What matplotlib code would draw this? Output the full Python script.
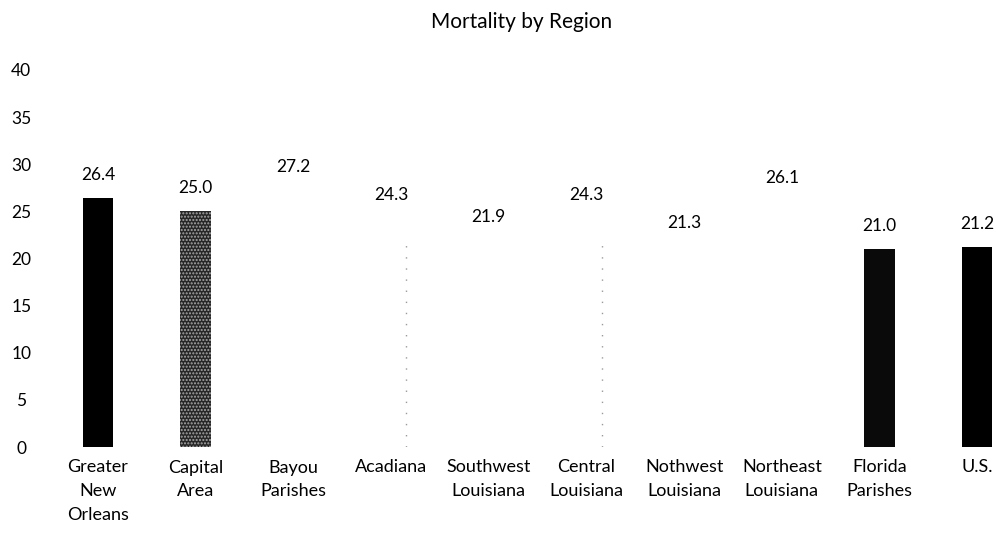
import matplotlib
matplotlib.use("Agg")
import matplotlib.pyplot as plt

plt.rcParams['font.family'] = ['Lato', 'DejaVu Sans']

regions = ["Greater\nNew\nOrleans", "Capital\nArea", "Bayou\nParishes", "Acadiana",
           "Southwest\nLouisiana", "Central\nLouisiana", "Nothwest\nLouisiana",
           "Northeast\nLouisiana", "Florida\nParishes", "U.S."]
mortality = [26.4, 25.0, 27.2, 24.3, 21.9, 24.3, 21.3, 26.1, 21.0, 21.2]
bar_colors = ["#000000", "#262626", "#ffffff", "#ffffff", "#ffffff",
              "#ffffff", "#ffffff", "#ffffff", "#0a0a0a", "#000000"]
faint_edge = [False, False, False, True, False, True, False, False, False, False]
y_ticks = [0, 5, 10, 15, 20, 25, 30, 35, 40]

W, H = 996, 533
fig = plt.figure(figsize=(W / 100, H / 100), dpi=100)
ax = fig.add_axes([49 / W, (H - 447) / H, (W - 49) / W, (447 - 70) / H])

x = list(range(len(regions)))
bw = 0.31
bars = ax.bar(x, mortality, width=bw, color=bar_colors, linewidth=0)
# stippled texture on the Capital Area bar
bars[1].set_hatch('.....')
bars[1].set_edgecolor('#a8a8a8')
bars[1].set_linewidth(0)

# faint dotted right edges on the near-white bars
for i, (v, f) in enumerate(zip(mortality, faint_edge)):
    if f:
        ax.vlines(i + bw / 2, 0, v - 2, colors='#9a9a9a', linewidth=1.0,
                  linestyles=(0, (1, 7)))

for i, v in enumerate(mortality):
    ax.annotate(f"{v:.1f}", (i, v), xytext=(0, 11), textcoords='offset points',
                ha='center', va='bottom', fontsize=12.5)

ax.set_xlim(-0.5, (W - 98) / 97.7)
ax.set_ylim(0, 40)
ax.set_xticks(x)
ax.set_xticklabels(regions, fontsize=13, linespacing=1.6)
ax.set_yticks(y_ticks)
ax.set_yticklabels([str(t) for t in y_ticks], fontsize=12.5, ha='center')
ax.tick_params(axis='both', length=0)
ax.tick_params(axis='y', pad=20)
ax.tick_params(axis='x', pad=9)
for s in ax.spines.values():
    s.set_visible(False)

fig.text(522 / W, 1 - 22 / H, "Mortality by Region", ha='center', va='center',
         fontsize=15)

fig.savefig("out.png", dpi=100, facecolor='white')
